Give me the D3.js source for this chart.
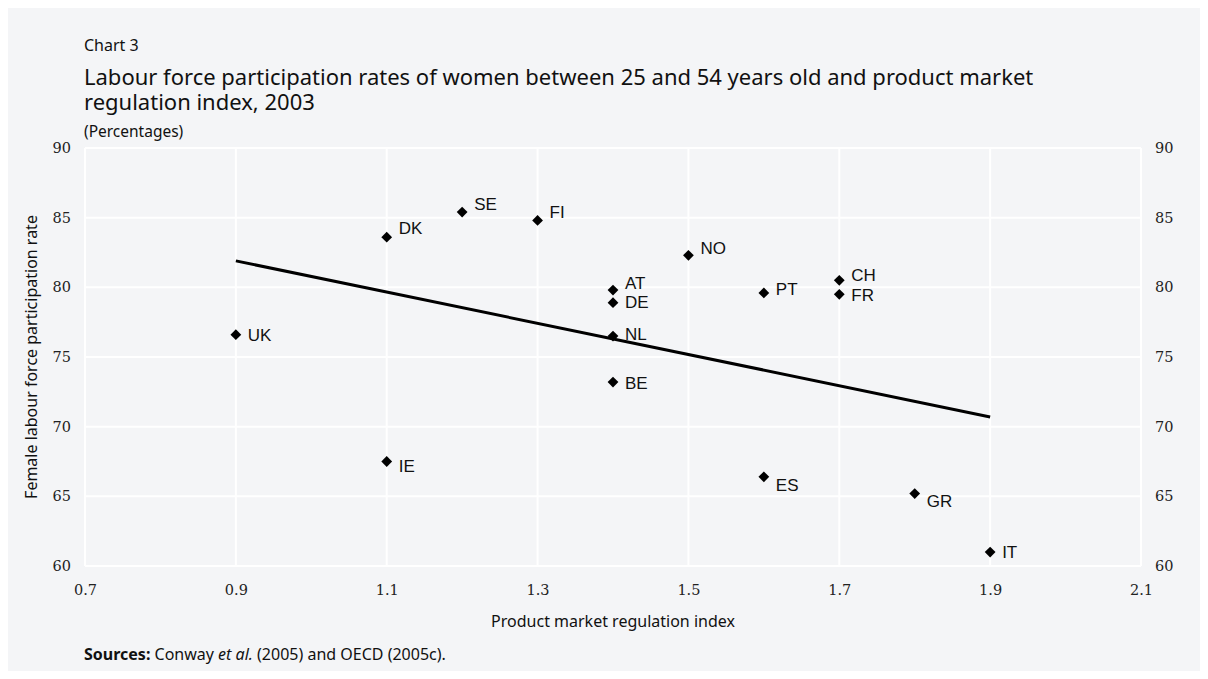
<!DOCTYPE html>
<html><head><meta charset="utf-8">
<script src="https://cdn.jsdelivr.net/npm/d3@7"></script>
<style>
html,body{margin:0;padding:0;background:#fff;}
</style></head>
<body>
<svg id="chart" width="1208" height="679"></svg>
<script>
// ---- data ----
const countries = ["UK","DK","SE","FI","IE","AT","DE","NL","BE","NO","PT","ES","CH","FR","GR","IT"];
const pmrIndex  = [0.9, 1.1, 1.2, 1.3, 1.1, 1.4, 1.4, 1.4, 1.4, 1.5, 1.6, 1.6, 1.7, 1.7, 1.8, 1.9];
const femaleLFP = [76.6,83.6,85.4,84.8,67.5,79.8,78.9,76.5,73.2,82.3,79.6,66.4,80.5,79.5,65.2,61.0];
const trendX = [0.9, 1.9];
const trendY = [81.9, 70.7];
const xTicks = [0.7,0.9,1.1,1.3,1.5,1.7,1.9,2.1];
const yTicks = [60,65,70,75,80,85,90];

// ---- label nudges (layout only) ----
const labelDy = {UK:0,DK:-9,SE:-8,FI:-8,IE:5,AT:-7,DE:-1,NL:-2,BE:1,NO:-7,PT:-4,ES:8,CH:-5,FR:1,GR:8,IT:0};

const svg = d3.select("#chart");
svg.append("rect").attr("x",8).attr("y",8).attr("width",1192).attr("height",663).attr("fill","#f4f5f7");

const m = {l:85, r:1141, t:148, b:566};
const x = d3.scaleLinear().domain([0.7,2.1]).range([m.l,m.r]);
const y = d3.scaleLinear().domain([60,90]).range([m.b,m.t]);

const sans = "'Noto Sans', 'Open Sans', sans-serif";
const serif = "'DejaVu Serif', 'Liberation Serif', serif";

// grid
const g = svg.append("g");
g.selectAll("line.v").data(xTicks).join("line")
  .attr("x1",d=>x(d)).attr("x2",d=>x(d)).attr("y1",m.t).attr("y2",m.b)
  .attr("stroke","#fff").attr("stroke-width",2);
g.selectAll("line.h").data(yTicks).join("line")
  .attr("y1",d=>y(d)).attr("y2",d=>y(d)).attr("x1",m.l).attr("x2",m.r)
  .attr("stroke","#fff").attr("stroke-width",2);

// axes
const fmtX = d3.format(".1f");
const axL = svg.append("g").attr("transform",`translate(${m.l-14},0)`)
  .call(d3.axisLeft(y).tickValues(yTicks).tickSize(0).tickPadding(0));
const axR = svg.append("g").attr("transform",`translate(${m.r+14},0)`)
  .call(d3.axisRight(y).tickValues(yTicks).tickSize(0).tickPadding(0));
const axB = svg.append("g").attr("transform",`translate(0,${m.b+19})`)
  .call(d3.axisBottom(x).tickValues(xTicks).tickFormat(fmtX).tickSize(0).tickPadding(0));
[axL,axR,axB].forEach(a=>{
  a.select(".domain").remove();
  a.selectAll("text").attr("font-family",serif).attr("font-size",14.5).attr("fill","#222");
});

// trend line
svg.append("path")
  .datum(trendX.map((v,i)=>[v,trendY[i]]))
  .attr("d", d3.line().x(d=>x(d[0])).y(d=>y(d[1])))
  .attr("stroke","#000").attr("stroke-width",3).attr("fill","none");

// points
const pts = countries.map((c,i)=>({c, x:pmrIndex[i], y:femaleLFP[i]}));
svg.selectAll("path.pt").data(pts).join("path")
  .attr("class","pt")
  .attr("d", d3.symbol().type(d3.symbolSquare).size(58))
  .attr("transform", d=>`translate(${x(d.x)},${y(d.y)}) rotate(45)`)
  .attr("fill","#000");
svg.selectAll("text.lbl").data(pts).join("text")
  .attr("x", d=>x(d.x)+12)
  .attr("y", d=>y(d.y)+labelDy[d.c])
  .attr("dy","0.35em")
  .attr("font-family","'Liberation Sans', Arial, sans-serif")
  .attr("font-size",17).attr("fill","#111")
  .text(d=>d.c);

// titles
svg.append("text").attr("x",84).attr("y",51).attr("font-family",sans).attr("font-size",16).attr("fill","#111").text("Chart 3");
const t = svg.append("text").attr("x",84).attr("font-family",sans).attr("font-size",22).attr("fill","#111");
t.append("tspan").attr("x",84).attr("y",85).text("Labour force participation rates of women between 25 and 54 years old and product market");
t.append("tspan").attr("x",84).attr("y",110).text("regulation index, 2003");
svg.append("text").attr("x",84).attr("y",137).attr("font-family",sans).attr("font-size",15.5).attr("fill","#111").text("(Percentages)");

svg.append("text").attr("transform",`translate(37,${(m.t+m.b)/2}) rotate(-90)`)
  .attr("text-anchor","middle").attr("font-family",sans).attr("font-size",16).attr("fill","#111")
  .text("Female labour force participation rate");
svg.append("text").attr("x",(m.l+m.r)/2).attr("y",627).attr("text-anchor","middle")
  .attr("font-family",sans).attr("font-size",16).attr("fill","#111")
  .text("Product market regulation index");

const s = svg.append("text").attr("x",84).attr("y",660).attr("font-family",sans).attr("font-size",16).attr("fill","#111");
s.append("tspan").attr("font-weight","bold").text("Sources:");
s.append("tspan").text(" Conway ");
s.append("tspan").attr("font-style","italic").text("et al.");
s.append("tspan").text(" (2005) and OECD (2005c).");
</script>
</body></html>
